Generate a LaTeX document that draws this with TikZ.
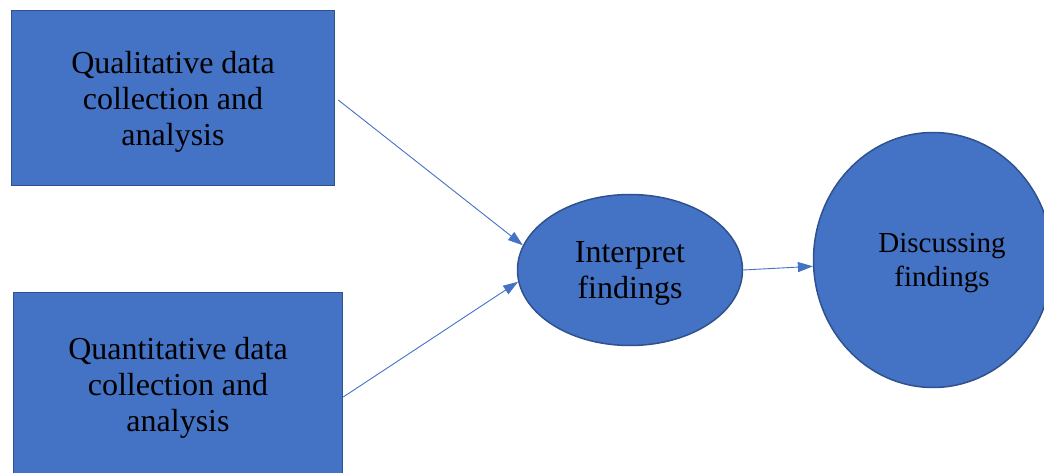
\documentclass[tikz,border=0pt]{standalone}
\usepackage{fontspec}
\setmainfont{Liberation Serif}
\usetikzlibrary{shapes.geometric,arrows.meta}
\definecolor{offblue}{HTML}{4472C4}
\definecolor{offdark}{HTML}{2F528F}
\tikzset{
  blockbox/.style={draw=offdark, fill=offblue, line width=1.5pt, inner sep=0pt},
  ovalbox/.style={ellipse, draw=offdark, fill=offblue, line width=1.5pt, inner sep=0pt},
  boxtext/.style={align=center, font=\fontsize{32}{36}\selectfont, inner sep=0pt},
  flow/.style={draw=offblue, line width=0.9pt, -{Triangle[length=15pt,width=10pt]}}
}
\begin{document}
\begin{tikzpicture}[x=1pt,y=-1pt]
\useasboundingbox (0,0) rectangle (1044,473);
\clip (0,0) rectangle (1044,473);
\node[blockbox, minimum width=323pt, minimum height=175pt,
  label={[boxtext, yshift=-4pt]center:{Qualitative data\\collection and\\analysis}}] (qual) at (173,98) {};
\node[blockbox, minimum width=329pt, minimum height=191pt,
  label={[boxtext]center:{Quantitative data\\collection and\\analysis}}] (quan) at (178,388) {};
\node[ovalbox, minimum width=225pt, minimum height=151pt,
  label={[boxtext, yshift=-3pt]center:{Interpret\\findings}}] (interp) at (630,270) {};
\node[ovalbox, minimum width=239pt, minimum height=255pt,
  label={[boxtext, font=\fontsize{29}{34}\selectfont, xshift=9pt, yshift=-3pt]center:{Discussing\\findings}}] (disc) at (933,260) {};
\draw[flow] ([shift={(3pt,-2pt)}]qual.east) -- (interp.167);
\draw[flow] ([yshift=-9pt]quan.east) -- (interp.186);
\draw[flow] (interp.east) -- (disc.183);
\end{tikzpicture}
\end{document}
